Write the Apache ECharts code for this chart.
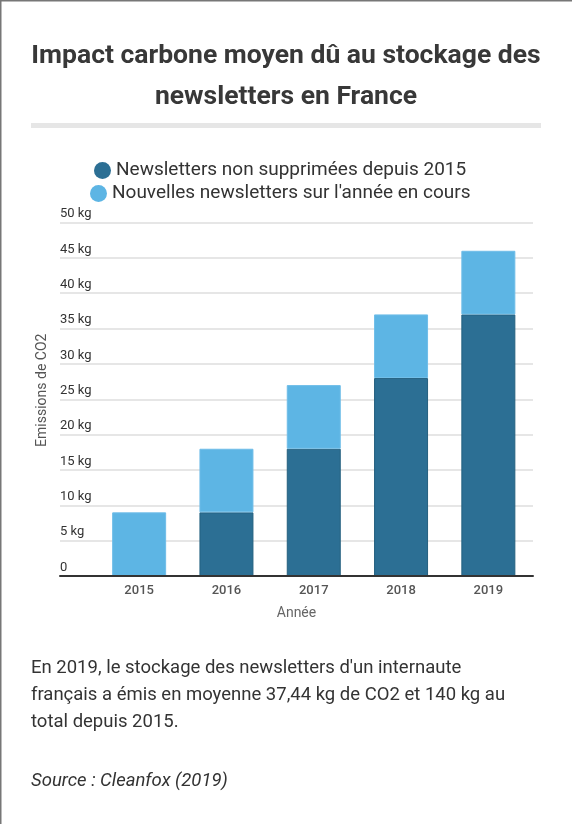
<!DOCTYPE html>
<html>
<head>
<meta charset="utf-8">
<title>Impact carbone des newsletters</title>
<script src="https://cdn.jsdelivr.net/npm/echarts/dist/echarts.min.js"></script>
<style>
    html, body { margin: 0; padding: 0; background: #fff; }
    #chart { width: 572px; height: 824px; }
</style>
</head>
<body>
<div id="chart"></div>
<script>
// données
var annees = ['2015', '2016', '2017', '2018', '2019'];
var nonSupprimees = [0, 9, 18, 28, 37];
var nouvelles = [9, 9, 9, 9, 9];
var nomSerie1 = 'Newsletters non supprimées depuis 2015';
var nomSerie2 = "Nouvelles newsletters sur l'année en cours";

var police = 'Roboto, "Noto Sans", sans-serif';
var texteBas = [
    "En 2019, le stockage des newsletters d'un internaute",
    'français a émis en moyenne 37,44 kg de CO2 et 140 kg au',
    'total depuis 2015.'
];

var myChart = echarts.init(document.getElementById('chart'));

myChart.setOption({
    backgroundColor: '#fff',
    animation: false,
    title: {
        text: 'Impact carbone moyen dû au stockage des\nnewsletters en France',
        left: 'center',
        top: 36,
        padding: 0,
        textStyle: {
            fontFamily: police,
            fontSize: 26.5,
            fontWeight: 'bold',
            color: '#383838',
            lineHeight: 41
        }
    },
    legend: [{
        data: [nomSerie1],
        left: 94,
        top: 161,
        padding: 0,
        icon: 'circle',
        itemWidth: 17,
        itemHeight: 17,
        itemStyle: { borderWidth: 0 },
        textStyle: { fontFamily: police, fontSize: 19, color: '#333' }
    }, {
        data: [nomSerie2],
        left: 90,
        top: 184,
        padding: 0,
        icon: 'circle',
        itemWidth: 17,
        itemHeight: 17,
        itemStyle: { borderWidth: 0 },
        textStyle: { fontFamily: police, fontSize: 19, color: '#333' }
    }],
    grid: [{
        left: 60, right: 39, top: 222.5, bottom: 248,
        outerBoundsMode: 'none'
    }, {
        left: 95.5, right: 40, top: 222.5, bottom: 248,
        outerBoundsMode: 'none'
    }],
    xAxis: [{
        // axe de fond : ligne noire et titre "Année"
        type: 'value',
        gridIndex: 0,
        min: 0,
        max: 1,
        z: 5,
        name: 'Année',
        nameLocation: 'middle',
        nameGap: 30,
        nameTextStyle: { fontFamily: police, fontSize: 14, color: '#666' },
        axisLine: { show: true, lineStyle: { color: '#333', width: 2 } },
        axisTick: { show: false },
        axisLabel: { show: false },
        splitLine: { show: false }
    }, {
        type: 'category',
        gridIndex: 1,
        data: annees,
        axisLine: { show: false },
        axisTick: { show: false },
        axisLabel: {
            margin: 8,
            fontFamily: police,
            fontSize: 13,
            fontWeight: 500,
            color: '#555'
        }
    }],
    yAxis: [{
        type: 'value',
        gridIndex: 0,
        min: 0,
        max: 50,
        interval: 5,
        name: 'Emissions de CO2',
        nameLocation: 'middle',
        nameGap: 11,
        nameTextStyle: {
            fontFamily: police,
            fontSize: 14,
            color: '#555',
            padding: [0, 0, 0, 18]
        },
        axisLine: { show: false },
        axisTick: { show: false },
        axisLabel: {
            inside: true,
            margin: 0,
            align: 'left',
            verticalAlign: 'bottom',
            padding: [0, 0, 2, 0],
            fontFamily: police,
            fontSize: 13,
            color: '#333',
            formatter: function (v) {
                return v === 0 ? '0' : v + ' kg';
            }
        },
        splitLine: { show: true, lineStyle: { color: '#e6e6e6', width: 2 } }
    }, {
        type: 'value',
        gridIndex: 1,
        min: 0,
        max: 50,
        show: false
    }],
    series: [{
        name: nomSerie1,
        type: 'bar',
        stack: 'total',
        xAxisIndex: 1,
        yAxisIndex: 1,
        barWidth: 54,
        data: nonSupprimees,
        itemStyle: { color: '#2c6f94', borderColor: '#24607f', borderWidth: 1 }
    }, {
        name: nomSerie2,
        type: 'bar',
        stack: 'total',
        xAxisIndex: 1,
        yAxisIndex: 1,
        barWidth: 54,
        data: nouvelles,
        itemStyle: { color: '#5db5e4', borderColor: '#6fbde8', borderWidth: 1 }
    }],
    graphic: [{
        // cadre gauche et haut
        type: 'line',
        shape: { x1: 0.75, y1: 0, x2: 0.75, y2: 824 },
        style: { stroke: '#777', lineWidth: 1.5 }
    }, {
        type: 'line',
        shape: { x1: 0, y1: 0.75, x2: 572, y2: 0.75 },
        style: { stroke: '#777', lineWidth: 1.5 }
    }, {
        // séparateur sous le titre
        type: 'rect',
        shape: { x: 31, y: 123, width: 510, height: 5 },
        style: { fill: '#e6e6e6' }
    }, {
        type: 'text',
        left: 31,
        top: 655,
        style: {
            text: texteBas.join('\n'),
            font: '18.5px ' + police,
            lineHeight: 27,
            fill: '#333'
        }
    }, {
        type: 'text',
        left: 31,
        top: 772,
        style: {
            text: 'Source : Cleanfox (2019)',
            font: 'italic 18.5px ' + police,
            fill: '#333'
        }
    }]
});
</script>
</body>
</html>
